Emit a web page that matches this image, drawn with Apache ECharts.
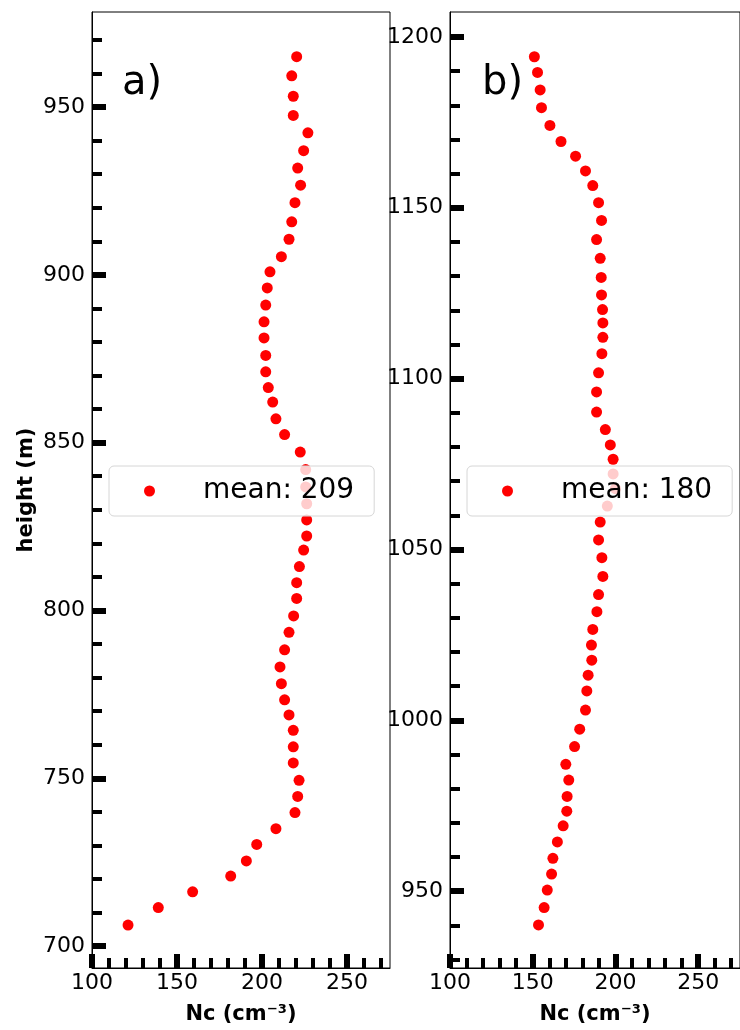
<!DOCTYPE html>
<html>
<head>
<meta charset="utf-8">
<title>Nc profiles</title>
<script src="https://cdn.jsdelivr.net/npm/echarts@6/dist/echarts.min.js"></script>
<style>
  html, body { margin: 0; padding: 0; background: #fff; }
  #ncChart { width: 740px; height: 1030px; }
</style>
</head>
<body>
<div id="ncChart"></div>
<script>
// panel a) values, top to bottom
var heightA = [965, 959.3, 953.2, 947.5, 942.3, 937, 931.8, 926.7, 921.5, 915.8, 910.6, 905.4, 900.9, 896.1, 891, 886, 881.2,
    876, 871.1, 866.4, 862.1, 857.1, 852.4, 847.2, 842, 836.8, 831.8, 827, 822.2, 818, 813.1, 808.3, 803.6, 798.4, 793.5, 788.3, 783.2,
    778.2, 773.4, 768.9, 764.3, 759.4, 754.6, 749.4, 744.6, 739.8, 735, 730.3, 725.4, 720.9, 716.2, 711.5, 706.3];
var ncA = [220.4, 217.5, 218.4, 218.4, 227, 224.5, 221, 222.7, 219.4, 217.5, 215.9, 211.4, 204.7, 203.1, 202.2, 201.2, 201.2,
    202.2, 202.2, 203.7, 206.3, 208.2, 213.3, 222.5, 225.7, 225.7, 226.3, 226.3, 226.3, 224.5, 222, 220.4, 220.4, 218.6, 215.9, 213.3, 210.6,
    211.4, 213.3, 215.9, 218.4, 218.4, 218.4, 221.8, 221, 219.4, 208.2, 196.9, 190.8, 181.6, 159.2, 139, 121.2];
// panel b)
var heightB = [1194.2, 1189.6, 1184.5, 1179.3, 1174.1, 1169.4, 1165.1, 1160.8, 1156.5, 1151.5, 1146.3, 1140.7, 1135.2, 1129.6, 1124.5, 1120.2, 1116.3, 1112.1,
    1107.3, 1101.7, 1096.1, 1090.2, 1085.1, 1080.6, 1076.4, 1072.1, 1067.8, 1062.7, 1058, 1052.8, 1047.6, 1042.1, 1036.8, 1031.8, 1026.6, 1022, 1017.6,
    1013.2, 1008.6, 1003, 997.4, 992.3, 987.1, 982.5, 977.7, 973.4, 969.1, 964.4, 959.6, 955, 950.3, 945.2, 940.1];
var ncB = [151, 152.9, 154.5, 155.3, 160.4, 167.1, 175.9, 181.9, 186.3, 189.8, 191.6, 188.6, 190.8, 191.4, 191.6, 192.2, 192.4, 192.4,
    191.8, 189.8, 188.6, 188.6, 193.9, 196.9, 198.6, 198.6, 200, 195.1, 190.8, 189.8, 191.8, 192.4, 189.8, 188.8, 186.3, 185.5, 185.7,
    183.5, 182.7, 181.9, 178.4, 175.3, 170, 171.8, 170.8, 170.6, 168.4, 164.9, 162.2, 161.4, 158.8, 156.9, 153.5];

var seriesNames = ['mean: 209', 'mean: 180'];
var panelLabels = ['a)', 'b)'];

// tick positions
var xMajorTicks = [100, 150, 200, 250];
var xMinorTicks = [110, 120, 130, 140, 160, 170, 180, 190, 210, 220, 230, 240, 260, 270];
var yMajorTicksA = [700, 750, 800, 850, 900, 950];
var yMinorTicksA = [710, 720, 730, 740, 760, 770, 780, 790, 810, 820, 830, 840, 860, 870, 880, 890, 910, 920, 930, 940, 960, 970];
var yMajorTicksB = [950, 1000, 1050, 1100, 1150, 1200];
var yMinorTicksB = [930, 940, 960, 970, 980, 990, 1010, 1020, 1030, 1040, 1060, 1070, 1080, 1090, 1110, 1120, 1130, 1140, 1160, 1170, 1180, 1190];

var FONT = 'DejaVu Sans';

function zip(xs, ys) {
    return xs.map(function (v, i) { return [v, ys[i]]; });
}

function plain(v) { return String(v); }

function xAxisPair(gridIndex) {
    var base = {
        gridIndex: gridIndex, type: 'value', min: 100, max: 275.3,
        splitLine: { show: false }, position: 'bottom'
    };
    return [
        Object.assign({}, base, {
            name: 'Nc (cm⁻³)', nameLocation: 'middle', nameGap: 36,
            nameTextStyle: { fontFamily: FONT, fontSize: 21, fontWeight: 'bold', color: '#000' },
            axisLine: { show: true, lineStyle: { color: '#000', width: 1 } },
            axisTick: { show: true, inside: true, length: 14, customValues: xMajorTicks, lineStyle: { color: '#000', width: 6 } },
            axisLabel: { show: true, margin: 4, customValues: xMajorTicks, formatter: plain, fontFamily: FONT, fontSize: 22, color: '#000' }
        }),
        Object.assign({}, base, {
            axisLine: { show: false },
            axisTick: { show: true, inside: true, length: 10, customValues: xMinorTicks, lineStyle: { color: '#000', width: 4 } },
            axisLabel: { show: false }
        })
    ];
}

function yAxisPair(gridIndex, min, max, major, minor, withName) {
    var base = {
        gridIndex: gridIndex, type: 'value', min: min, max: max,
        splitLine: { show: false }, position: 'left', offset: 0
    };
    var main = Object.assign({}, base, {
        axisLine: { show: true, lineStyle: { color: '#000', width: 1 } },
        axisTick: { show: true, inside: true, length: 14, customValues: major, lineStyle: { color: '#000', width: 6 } },
        axisLabel: { show: true, margin: 7, customValues: major, formatter: plain, fontFamily: FONT, fontSize: 22, color: '#000' }
    });
    if (withName) {
        main.name = 'height (m)';
        main.nameLocation = 'middle';
        main.nameGap = 55;
        main.nameTextStyle = { fontFamily: FONT, fontSize: 21, fontWeight: 'bold', color: '#000' };
    }
    return [main, Object.assign({}, base, {
        axisLine: { show: false },
        axisTick: { show: true, inside: true, length: 10, customValues: minor, lineStyle: { color: '#000', width: 4 } },
        axisLabel: { show: false }
    })];
}

function legendFor(name, left) {
    return {
        data: [name], left: left, top: 466, orient: 'vertical',
        icon: 'circle', itemWidth: 11, itemHeight: 11,
        padding: [11, 20, 11, 35],
        backgroundColor: 'rgba(255,255,255,0.8)',
        borderColor: '#d6d6d6', borderWidth: 1, borderRadius: 5,
        selectedMode: false,
        formatter: '{g| }{t|{name}}',
        textStyle: {
            fontFamily: FONT, fontSize: 28, color: '#000',
            rich: {
                g: { width: 43, fontSize: 28 },
                t: { fontFamily: FONT, fontSize: 28, color: '#000' }
            }
        }
    };
}

function scatterFor(name, idx, data) {
    return {
        name: name, type: 'scatter', xAxisIndex: idx * 2, yAxisIndex: idx * 2,
        symbol: 'circle', symbolSize: 11, itemStyle: { color: '#ff0000', opacity: 1 },
        data: data, clip: false, animation: false
    };
}

var chart = echarts.init(document.getElementById('ncChart'), null, { renderer: 'canvas' });
var option = {
    backgroundColor: '#fff',
    animation: false,
    title: [
        { text: panelLabels[0], left: 117, top: 59, textStyle: { fontFamily: FONT, fontSize: 40, fontWeight: 'normal', color: '#000' } },
        { text: panelLabels[1], left: 477, top: 59, textStyle: { fontFamily: FONT, fontSize: 40, fontWeight: 'normal', color: '#000' } }
    ],
    grid: [
        { left: 92, top: 12, width: 298, height: 957, show: true, borderColor: '#000', borderWidth: 1, backgroundColor: 'transparent' },
        { left: 450, top: 12, width: 298, height: 957, show: true, borderColor: '#000', borderWidth: 1, backgroundColor: 'transparent' }
    ],
    xAxis: xAxisPair(0).concat(xAxisPair(1)),
    yAxis: yAxisPair(0, 693.5, 978.3, yMajorTicksA, yMinorTicksA, true)
        .concat(yAxisPair(1, 927.5, 1207.3, yMajorTicksB, yMinorTicksB, false)),
    legend: [legendFor(seriesNames[0], 109), legendFor(seriesNames[1], 467)],
    series: [
        scatterFor(seriesNames[0], 0, zip(ncA, heightA)),
        scatterFor(seriesNames[1], 1, zip(ncB, heightB))
    ]
};
chart.setOption(option);
</script>
</body>
</html>
